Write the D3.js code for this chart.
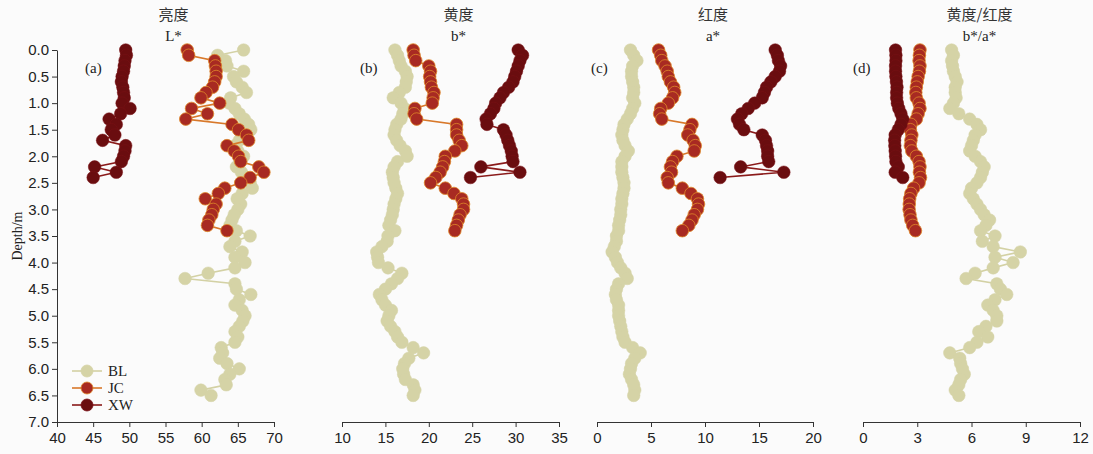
<!DOCTYPE html>
<html>
<head>
<meta charset="utf-8">
<script src="https://cdn.jsdelivr.net/npm/d3@7"></script>
<style>
  body { margin: 0; background: #fbfbfb; }
  svg { display: block; font-family: "Liberation Serif", "Times New Roman", serif; }
  .cjk { font-family: "Noto Sans CJK SC", sans-serif; }
</style>
</head>
<body>
<svg id="chart" width="1093" height="454"></svg>
<script>
// sample depths (m) for each site
const depthBL = d3.range(0, 66).map(i => i / 10);
const depthJC = d3.range(0, 35).map(i => i / 10);
const depthXW = d3.range(0, 25).map(i => i / 10);

// L* (brightness)
const lBL = [65.8, 62.2, 63.3, 63.5, 65.8, 64.4, 64.8, 65.6, 66.2, 64.0,
  63.8, 64.6, 65.2, 65.9, 66.5, 66.8, 66.0, 65.2, 64.6, 65.0,
  65.8, 65.3, 64.8, 65.5, 66.2, 66.7, 67.0, 65.6, 64.9, 65.4,
  65.0, 64.5, 64.2, 63.9, 64.8, 66.7, 64.6, 63.9, 65.6, 64.6,
  66.0, 64.6, 60.9, 57.7, 64.6, 64.8, 66.8, 65.2, 64.6, 65.6,
  66.0, 65.7, 65.2, 64.6, 65.0, 64.6, 62.7, 62.9, 62.5, 63.5,
  65.2, 63.9, 63.2, 63.4, 59.9, 61.3];
const lJC = [58.0, 58.2, 61.8, 61.9, 62.0, 62.0, 61.8, 61.5, 60.6, 59.9,
  62.5, 58.6, 60.8, 57.8, 64.2, 65.1, 66.2, 66.5, 63.5, 64.5,
  65.1, 65.4, 67.9, 68.6, 66.7, 65.4, 63.2, 62.3, 60.5, 62.0,
  61.6, 61.4, 61.0, 60.8, 63.5];
const lXW = [49.5, 49.6, 49.4, 49.3, 49.2, 49.0, 48.9, 49.1, 49.2, 49.3,
  49.0, 50.1, 48.8, 47.2, 48.2, 47.5, 48.0, 46.3, 49.5, 49.4,
  49.2, 48.9, 45.2, 48.2, 45.0];

// b* (yellowness)
const bBL = [16.1, 16.4, 16.6, 16.8, 17.3, 17.5, 17.4, 17.3, 16.6, 15.9,
  16.8, 17.2, 17.0, 16.8, 16.3, 16.1, 16.0, 16.3, 16.7, 17.3,
  17.5, 16.4, 16.0, 15.8, 15.9, 16.0, 16.2, 16.4, 16.2, 16.0,
  15.9, 15.8, 15.6, 15.4, 16.1, 15.3, 15.2, 14.6, 14.0, 14.1,
  14.2, 15.3, 16.9, 16.4, 15.7, 15.0, 14.3, 14.6, 15.0, 15.7,
  15.4, 15.2, 15.6, 16.1, 16.4, 16.9, 18.2, 19.4, 17.7, 17.2,
  17.0, 17.1, 17.3, 18.2, 18.4, 18.2];
const bJC = [18.2, 18.3, 18.5, 20.0, 20.2, 20.1, 20.2, 20.3, 20.6, 20.5,
  20.4, 18.4, 18.3, 18.6, 23.2, 23.2, 23.2, 23.5, 23.8, 23.0,
  21.9, 21.8, 21.6, 21.3, 20.8, 20.2, 21.9, 22.9, 23.8, 24.0,
  24.0, 23.6, 23.4, 23.2, 23.0];
const bXW = [30.3, 30.8, 30.5, 30.3, 30.1, 29.9, 29.7, 29.2, 28.6, 28.2,
  27.7, 27.5, 27.1, 26.6, 26.7, 28.6, 28.9, 29.1, 29.3, 29.5,
  29.6, 29.7, 26.0, 30.5, 24.8];

// a* (redness)
const aBL = [3.1, 3.4, 3.7, 3.3, 3.2, 3.2, 3.3, 3.4, 3.4, 3.3,
  3.5, 3.3, 3.1, 2.8, 2.5, 2.4, 2.3, 2.4, 2.6, 2.9,
  2.6, 2.3, 2.3, 2.3, 2.4, 2.5, 2.5, 2.4, 2.3, 2.3,
  2.2, 2.2, 2.1, 2.0, 2.0, 1.8, 1.8, 1.6, 1.4, 1.7,
  1.9, 2.2, 2.6, 2.8, 2.0, 1.8, 1.7, 1.8, 2.0, 2.0,
  2.0, 2.1, 2.2, 2.3, 2.4, 2.6, 3.3, 4.0, 3.5, 3.2,
  3.1, 3.0, 3.2, 3.4, 3.5, 3.4];
const aJC = [5.7, 5.9, 6.0, 6.3, 6.5, 6.6, 6.8, 7.1, 7.2, 7.0,
  6.6, 5.9, 5.8, 6.0, 8.8, 8.6, 8.4, 8.9, 9.1, 9.0,
  7.4, 7.0, 6.8, 6.9, 6.5, 6.6, 7.9, 8.7, 9.3, 9.4,
  9.3, 9.0, 8.8, 8.5, 7.9];
const aXW = [16.5, 16.7, 16.8, 17.0, 16.9, 16.5, 16.1, 15.7, 15.5, 15.3,
  14.6, 14.0, 13.4, 13.0, 13.2, 13.6, 15.3, 15.6, 15.7, 15.8,
  15.8, 15.9, 13.3, 17.3, 11.4];

// b*/a*
const rBL = [4.9, 5.0, 4.9, 4.95, 5.0, 5.1, 5.2, 5.1, 5.1, 5.15,
  5.0, 4.8, 5.3, 5.9, 6.3, 6.5, 6.2, 6.1, 6.0, 5.9,
  6.2, 6.5, 6.7, 6.6, 6.5, 6.3, 6.0, 5.9, 6.1, 6.3,
  6.5, 6.7, 7.0, 6.8, 6.5, 7.3, 6.6, 7.2, 8.7, 7.3,
  8.3, 7.2, 6.2, 5.7, 7.4, 7.6, 7.95, 7.3, 6.9, 7.2,
  7.4, 7.4, 6.8, 6.4, 6.9, 6.3, 5.9, 4.8, 5.35, 5.4,
  5.5, 5.6, 5.4, 5.3, 5.1, 5.3];
const rJC = [3.15, 3.12, 3.10, 3.15, 3.12, 3.05, 3.00, 2.95, 2.92, 2.95,
  3.10, 3.15, 3.05, 2.95, 2.65, 2.62, 2.70, 2.65, 2.62, 2.70,
  2.95, 3.10, 3.15, 3.12, 3.18, 3.10, 2.80, 2.65, 2.58, 2.56,
  2.55, 2.60, 2.65, 2.75, 2.90];
const rXW = [1.80, 1.82, 1.82, 1.80, 1.80, 1.82, 1.85, 1.88, 1.86, 1.86,
  1.90, 1.98, 2.10, 2.20, 2.10, 1.95, 1.78, 1.75, 1.76, 1.78,
  1.80, 1.82, 1.95, 1.78, 2.20];

const siteNames = ["BL", "JC", "XW"];
const fillColors = ["#d5d3a6", "#a82a22", "#6a0d0f"];
const strokeColors = ["#d5d3a6", "#e0892a", "#7a1216"];
const lineColors = ["#d3d1a4", "#d8782a", "#8a1a1a"];

const panels = [
  { label: "(a)", labelX: 85, title: "亮度", sub: "L*", domain: [40, 70], ticks: [40, 45, 50, 55, 60, 65, 70],
    series: [lBL, lJC, lXW], x0: 57, x1: 274 },
  { label: "(b)", labelX: 360, title: "黄度", sub: "b*", domain: [10, 35], ticks: [10, 15, 20, 25, 30, 35],
    series: [bBL, bJC, bXW], x0: 342, x1: 559 },
  { label: "(c)", labelX: 591, title: "红度", sub: "a*", domain: [0, 20], ticks: [0, 5, 10, 15, 20],
    series: [aBL, aJC, aXW], x0: 597, x1: 813 },
  { label: "(d)", labelX: 853, title: "黄度/红度", sub: "b*/a*", domain: [0, 12], ticks: [0, 3, 6, 9, 12],
    series: [rBL, rJC, rXW], x0: 863, x1: 1080 }
];
const depths = [depthBL, depthJC, depthXW];

const svg = d3.select("#chart");
const y = d3.scaleLinear().domain([0, 7]).range([50, 422]);
const r = 6.3;

// depth axis, only on first panel
const yAxis = svg.append("g")
  .attr("transform", "translate(57,0)")
  .call(d3.axisLeft(y).tickValues(d3.range(0, 7.01, 0.5)).tickFormat(d3.format(".1f")).tickSize(5).tickSizeOuter(0));
yAxis.selectAll("text").style("font-size", "15px").attr("fill", "#222");
yAxis.selectAll("path, line").attr("stroke", "#333");

svg.append("text")
  .attr("transform", "translate(22,236) rotate(-90)")
  .attr("text-anchor", "middle")
  .style("font-size", "14px")
  .attr("fill", "#222")
  .text("Depth/m");

panels.forEach(p => {
  const x = d3.scaleLinear().domain(p.domain).range([p.x0, p.x1]);
  const g = svg.append("g");

  const xAxis = g.append("g")
    .attr("transform", "translate(0,422)")
    .call(d3.axisBottom(x).tickValues(p.ticks).tickSize(5).tickSizeOuter(0));
  xAxis.selectAll("text").style("font-size", "15px").attr("fill", "#222").attr("dy", "0.85em");
  xAxis.selectAll("path, line").attr("stroke", "#333");

  const cx = (p.x0 + p.x1) / 2 + 8;
  g.append("text").attr("class", "cjk")
    .attr("x", cx).attr("y", 20)
    .attr("text-anchor", "middle")
    .style("font-size", "15px").attr("fill", "#333")
    .text(p.title);
  g.append("text")
    .attr("x", cx).attr("y", 41)
    .attr("text-anchor", "middle")
    .style("font-size", "15px").attr("fill", "#222")
    .text(p.sub);

  p.series.forEach((vals, k) => {
    const pts = vals.map((v, i) => [v, depths[k][i]]);
    const line = d3.line().x(d => x(d[0])).y(d => y(d[1]));
    g.append("path")
      .attr("d", line(pts))
      .attr("fill", "none")
      .attr("stroke", lineColors[k])
      .attr("stroke-width", 1.6);
    g.selectAll(null)
      .data(pts)
      .join("circle")
      .attr("cx", d => x(d[0]))
      .attr("cy", d => y(d[1]))
      .attr("r", r)
      .attr("fill", fillColors[k])
      .attr("stroke", strokeColors[k])
      .attr("stroke-width", k === 1 ? 0.8 : 0.5);
  });

  g.append("text")
    .attr("x", p.labelX).attr("y", 73)
    .style("font-size", "15px").attr("fill", "#222")
    .text(p.label);
});

// legend
const legend = svg.append("g");
siteNames.forEach((name, k) => {
  const ly = 371 + k * 17;
  legend.append("line")
    .attr("x1", 72).attr("x2", 102).attr("y1", ly).attr("y2", ly)
    .attr("stroke", lineColors[k]).attr("stroke-width", 1.6);
  legend.append("circle")
    .attr("cx", 87).attr("cy", ly).attr("r", 6)
    .attr("fill", fillColors[k]).attr("stroke", strokeColors[k]).attr("stroke-width", 0.8);
  legend.append("text")
    .attr("x", 108).attr("y", ly + 5)
    .style("font-size", "15px").attr("fill", "#222")
    .text(name);
});
</script>
</body>
</html>
